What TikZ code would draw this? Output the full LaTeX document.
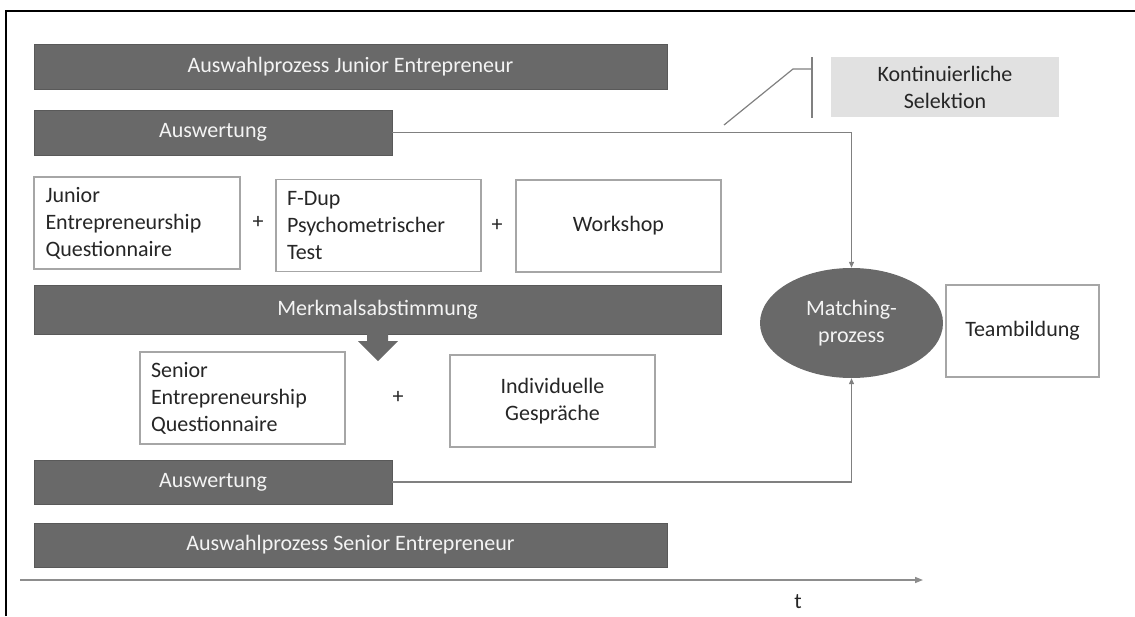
\documentclass[tikz,border=0pt]{standalone}
\usepackage{fontspec}
\setmainfont{Carlito}
\usetikzlibrary{arrows.meta,shapes.geometric}

\definecolor{bargray}{HTML}{696969}
\definecolor{bartext}{HTML}{F4F4F4}
\definecolor{boxline}{HTML}{A6A6A6}
\definecolor{linegray}{HTML}{808080}
\definecolor{notegray}{HTML}{E1E1E1}
\definecolor{textgray}{HTML}{262626}

\tikzset{
  every node/.style={font=\fontsize{22}{27}\selectfont, text=textgray, inner sep=0pt},
  bar/.style={fill=bargray, draw=bargray!85!black, line width=0.8pt, text=bartext, minimum height=45pt},
  box/.style={draw=boxline, line width=1.2pt, fill=white, minimum width=205pt, minimum height=92pt},
  lbox/.style={box, align=left, text width=183pt},
  cbox/.style={box, align=center},
  conn/.style={draw=linegray, line width=1.2pt, -{Triangle[length=6pt,width=5pt]}},
}

\begin{document}
\begin{tikzpicture}[x=1pt,y=-1pt]
\useasboundingbox (0,0) rectangle (1135,616);
\draw[line width=2pt] (6,616) |- (1135,11);

% Junior side
\node[bar, minimum width=633pt] (jun) at (350.5,66.5) {Auswahlprozess Junior Entrepreneur};
\node[bar, minimum width=358pt] (aw1) at (213,132.5) {Auswertung};
\node[lbox, minimum width=206pt] (jeq) at (137,223) {Junior\\Entrepreneurship\\Questionnaire};
\node (p1) at (258,222) {+};
\node[lbox] (fdup) at (378.5,225.5) {F-Dup\\Psychometrischer\\Test};
\node (p2) at (497,225) {+};
\node[cbox] (ws) at (618.5,226) {Workshop};

\node[bar, minimum width=687pt, minimum height=49pt] (merk) at (377.5,309.5) {Merkmalsabstimmung};
\fill[bargray] (367,334) -- (388,334) -- (388,341) -- (398,341) -- (378,361) -- (358,341) -- (367,341) -- cycle;

% Senior side
\node[lbox] (seq) at (242.5,398) {Senior\\Entrepreneurship\\Questionnaire};
\node (p3) at (398,397) {+};
\node[cbox] (ind) at (552.5,401) {Individuelle\\Gespräche};
\node[bar, minimum width=358pt, minimum height=44pt] (aw2) at (213,482) {Auswertung};
\node[bar, minimum width=633pt, minimum height=44pt] (sen) at (350.5,545) {Auswahlprozess Senior Entrepreneur};

% matching
\node[ellipse, fill=bargray, text=bartext, align=center, minimum width=183pt, minimum height=110pt] (match) at (851.5,323) {Matching-\\prozess};
\node[cbox, minimum width=153pt] (team) at (1022.5,331) {Teambildung};
\node[fill=notegray, align=center, minimum width=228pt, minimum height=60pt] (sel) at (945,87) {Kontinuierliche\\Selektion};

\draw[conn] (aw1.east) -| (match.north);
\draw[conn] (aw2.east) -| (match.south);

% callout
\coordinate (c1) at (724,125);
\coordinate (c2) at (793,69);
\coordinate (c3) at (812,69);
\draw[linegray, line width=1.2pt] (c1) -- (c2) -- (c3);
\draw[linegray, line width=1.2pt] (812,57) -- (812,118);

% time axis
\coordinate (t0) at (20,580);
\coordinate (t1) at (923,580);
\draw[draw=linegray!90, line width=1.5pt, -{Triangle[length=8pt,width=6pt]}] (t0) -- (t1);
\node (t) at (798,602) {t};
\end{tikzpicture}
\end{document}
